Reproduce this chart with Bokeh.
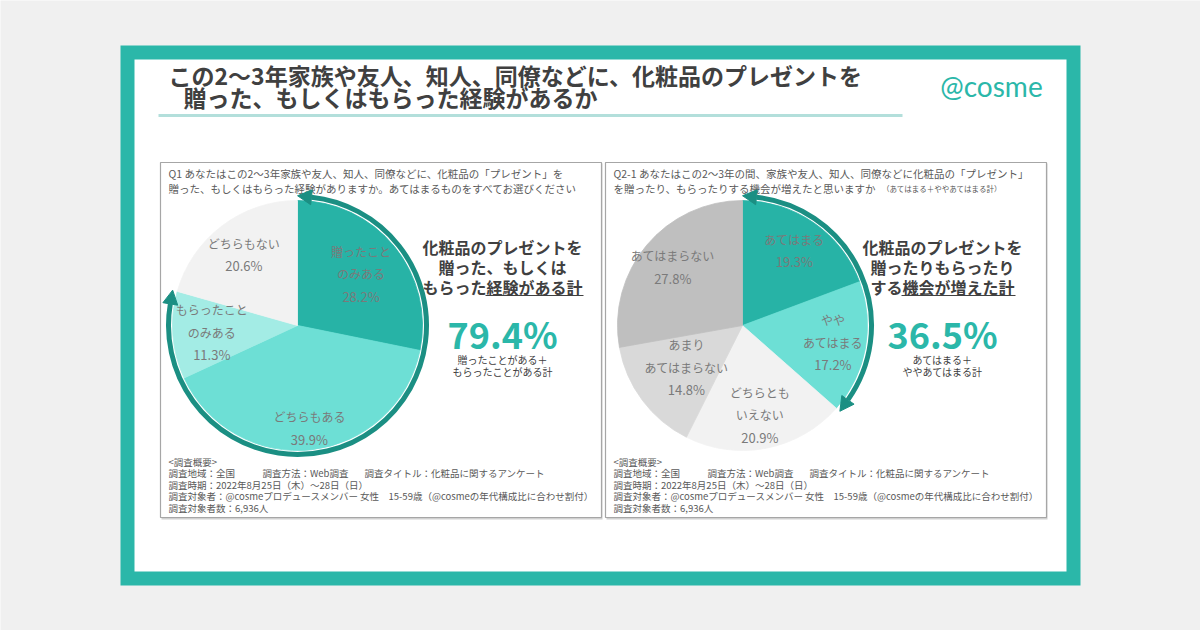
import math
from bokeh.plotting import figure
from bokeh.models import Range1d
from bokeh.core.properties import value
from bokeh.embed import file_html
from bokeh.resources import INLINE

# ---------------- data ----------------
title_lines = ["この2～3年家族や友人、知人、同僚などに、化粧品のプレゼントを",
               "贈った、もしくはもらった経験があるか"]
logo_text = "@cosme"

q1_question = ["Q1 あなたはこの2～3年家族や友人、知人、同僚などに、化粧品の「プレゼント」を",
               "贈った、もしくはもらった経験がありますか。あてはまるものをすべてお選びください"]
q1_labels = [["贈ったこと", "のみある"], ["どちらもある"], ["もらったこと", "のみある"], ["どちらもない"]]
q1_values = [28.2, 39.9, 11.3, 20.6]
q1_total_count = 3          # slices summed in the arrow
q1_total = 79.4
q1_head = ["化粧品のプレゼントを", "贈った、もしくは", "もらった経験がある計"]
q1_head_underlined = "経験がある計"
q1_sub = ["贈ったことがある＋", "もらったことがある計"]

q2_question = ["Q2-1 あなたはこの2～3年の間、家族や友人、知人、同僚などに化粧品の「プレゼント」",
               "を贈ったり、もらったりする機会が増えたと思いますか"]
q2_question_note = "（あてはまる＋ややあてはまる計）"
q2_labels = [["あてはまる"], ["やや", "あてはまる"], ["どちらとも", "いえない"],
             ["あまり", "あてはまらない"], ["あてはまらない"]]
q2_values = [19.3, 17.2, 20.9, 14.8, 27.8]
q2_total_count = 2
q2_total = 36.5
q2_head = ["化粧品のプレゼントを", "贈ったりもらったり", "する機会が増えた計"]
q2_head_underlined = "機会が増えた計"
q2_sub = ["あてはまる＋", "ややあてはまる計"]

foot_title = "<調査概要>"
foot_line1 = [("調査地域", 0), ("：全国", 38), ("調査方法", 94), ("：Web調査", 132),
              ("調査タイトル", 196), ("：化粧品に関するアンケート", 253)]
foot_line2 = [("調査時期", 0), ("：2022年8月25日（木）～28日（日）", 38)]
foot_line3 = [("調査対象者：@cosmeプロデュースメンバー 女性　15-59歳（@cosmeの年代構成比に合わせ割付）", 0)]
foot_line4 = [("調査対象者数：6,936人", 0)]

# ---------------- style ----------------
TEAL = "#2bb7a9"
ARC = "#1b8f83"
DARK = "#404040"
GRAY_TXT = "#595959"
LABEL = "#7a7a7a"
q1_colors = ["#27b3a6", "#6ddfd5", "#a3ece5", "#f2f2f2"]
q2_colors = ["#27b3a6", "#6ddfd5", "#f2f2f2", "#d9d9d9", "#bfbfbf"]
q1_dists = [82, 103, 86, 89]
q2_dists = [91, 92, 91, 70, 91]
JP = value("Noto Sans CJK JP")
R = 125
R_ARC = 129

W, H = 1200, 630
p = figure(width=W, height=H, x_range=Range1d(0, W), y_range=Range1d(0, H),
           output_backend="svg", toolbar_location=None, min_border=0,
           x_axis_type=None, y_axis_type=None)
p.grid.visible = False
p.outline_line_color = None
p.background_fill_color = "#f0f0f0"
p.border_fill_color = "#f0f0f0"


def Y(py):
    return 630 - py


def txt(x, y, s, size, color=DARK, align="left", bold=False, font=JP):
    p.text(x=[x], y=[Y(y)], text=[s], text_align=align, text_baseline="middle",
           text_font=font, text_font_size=f"{size}px", text_color=color,
           text_font_style="bold" if bold else "normal")


# frame
p.quad(left=[120], right=[1080], top=[Y(45)], bottom=[Y(585)], fill_color=TEAL, line_color=None)
p.quad(left=[134], right=[1066], top=[Y(59)], bottom=[Y(571)], fill_color="white", line_color=None)

# title
txt(168, 74, title_lines[0], 23, DARK, bold=True)
txt(183, 96, title_lines[1], 23, DARK, bold=True)
p.line(x=[158, 902], y=[Y(115), Y(115)], line_color="#b3dfdb", line_width=3)
txt(991, 85, logo_text, 28, TEAL, align="center", font=value("Lato"))

# panels
for left, right in [(160, 601), (605, 1046)]:
    p.quad(left=[left + 1], right=[right + 1], top=[Y(163)], bottom=[Y(519)], fill_color="#d0d0d0", line_color=None)
    p.quad(left=[left], right=[right], top=[Y(162)], bottom=[Y(517)], fill_color="white",
           line_color="#a6a6a6", line_width=1.2)


def draw_panel(x0, question, note, labels, values, colors, dists, cx, cy, tcount,
               head, underline_word, total, sub, hx):
    # question
    txt(x0, 173, question[0], 10.5, GRAY_TXT)
    txt(x0, 188, question[1], 10.5, GRAY_TXT)
    if note:
        nchar = len(question[1])
        txt(x0 + nchar * 10.5 + 6, 188, note, 7.5, GRAY_TXT)
    # pie
    starts, ends, mids = [], [], []
    acc = 0.0
    for v in values:
        t0 = acc / 100 * 2 * math.pi
        acc += v
        t1 = acc / 100 * 2 * math.pi
        starts.append(math.pi / 2 - t0)
        ends.append(math.pi / 2 - t1)
        mids.append((t0 + t1) / 2)
    p.wedge(x=[cx] * len(values), y=[Y(cy)] * len(values), radius=R, start_angle=starts,
            end_angle=ends, direction="clock", fill_color=colors, line_color=colors, line_width=0.8)
    # labels
    for lab, v, th, d in zip(labels, values, mids, dists):
        lx = cx + d * math.sin(th)
        ly = cy - d * math.cos(th)
        lines = lab + [f"{v}%"]
        n = len(lines)
        for k, s in enumerate(lines):
            yy = ly + (k - (n - 1) / 2) * 22.5
            size = 13 if k == n - 1 else 12
            txt(lx, yy, s, size, LABEL, align="center")
    # arrow arc
    th_end = sum(values[:tcount]) / 100 * 2 * math.pi
    head_len = 14
    dth = head_len / R_ARC
    p.arc(x=[cx], y=[Y(cy)], radius=R_ARC, start_angle=math.pi / 2 - dth,
          end_angle=math.pi / 2 - (th_end - dth), direction="clock", line_color=ARC, line_width=5)
    heads_x, heads_y = [], []
    for th, sgn in [(dth, -1), (th_end - dth, 1)]:
        bx = cx + R_ARC * math.sin(th)
        by = Y(cy) + R_ARC * math.cos(th)
        dx, dy = sgn * math.cos(th), -sgn * math.sin(th)
        nx, ny = math.sin(th), math.cos(th)
        hw = 7.5
        heads_x.append([bx + nx * hw, bx + dx * head_len, bx - nx * hw])
        heads_y.append([by + ny * hw, by + dy * head_len, by - ny * hw])
    p.patches(xs=heads_x, ys=heads_y, fill_color=ARC, line_color=ARC, line_width=1)
    # headline
    for k, s in enumerate(head):
        txt(hx, 246 + k * 20, s, 16, DARK, align="center", bold=True)
    # underline for the last words of the last line
    last = head[-1]
    wtot = len(last) * 16
    wu = len(underline_word) * 16
    xr = hx + wtot / 2
    p.line(x=[xr - wu - 1, xr + 1], y=[Y(295), Y(295)], line_color=DARK, line_width=1)
    txt(hx, 332, f"{total}%", 36, TEAL, align="center", bold=True)
    txt(hx, 359, sub[0], 10, DARK, align="center")
    txt(hx, 371, sub[1], 10, DARK, align="center")
    # footnote
    fx = x0
    txt(fx, 461, foot_title, 9.5, GRAY_TXT)
    for yy, segs in [(472.5, foot_line1), (484, foot_line2), (495.5, foot_line3), (507, foot_line4)]:
        for s, off in segs:
            txt(fx + off, yy, s, 9.5, GRAY_TXT)


draw_panel(168, q1_question, None, q1_labels, q1_values, q1_colors, q1_dists, 297, 325,
           q1_total_count, q1_head, q1_head_underlined, q1_total, q1_sub, 502)
draw_panel(613, q2_question, q2_question_note, q2_labels, q2_values, q2_colors, q2_dists, 742, 325,
           q2_total_count, q2_head, q2_head_underlined, q2_total, q2_sub, 942)

open("out.html", "w").write(file_html(p, INLINE))
